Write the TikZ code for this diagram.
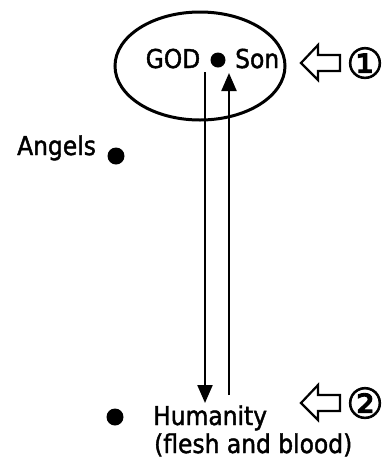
\documentclass[tikz,border=0pt]{standalone}
\usepackage{fontspec}
\setmainfont{DejaVu Sans Condensed}[FakeBold=1.6]
\newfontfamily\symfont{DejaVu Sans}[FakeBold=2]
\usetikzlibrary{arrows.meta,shapes.geometric}
\tikzset{
  hv dot/.style={circle,fill=black,inner sep=0pt,minimum size=17pt},
  hv text/.style={inner sep=0pt,font=\fontsize{26}{30}\selectfont},
  hv ring/.style={ellipse,draw=black,line width=3pt,minimum width=170pt,
    minimum height=108pt,inner sep=0pt},
  hv edge/.style={black,line width=2.2pt,-{Triangle[length=18pt,width=15pt]}},
  hv pointer/.style={draw=black,line width=2.2pt,line join=miter,fill=white}
}
\newcommand{\hvpointerat}[3]{%
  \begin{scope}[shift={(#1)}]
    \draw[hv pointer] (0,0)--(17,-18)--(17,-8)--(39,-8)--(39,8)--(17,8)
      --(17,17)--cycle;
    \node[inner sep=0pt,font=\symfont\fontsize{42}{42}\selectfont]
      (#3) at (64,0) {#2};
  \end{scope}%
}

\begin{document}
\begin{tikzpicture}[x=1pt,y=-1pt]
  \useasboundingbox (0,0) rectangle (387,459);
  \node[hv ring] (heaven) at (200,66) {};
  \node[hv dot,minimum size=15pt] (sondot) at (218,60) {};
  \node[hv text,anchor=base] (god) at (173,68) {GOD};
  \node[hv text,anchor=base west] (son) at (235,68) {Son};
  \node[hv text,anchor=base west] (angels) at (17,155) {Angels};
  \node[hv dot] (angeldot) at (116,156) {};
  \node[hv dot] (mandot) at (115,417) {};
  \node[hv text,anchor=base west] (humanity) at (153,425) {Humanity};
  \node[hv text,anchor=base west] (flesh) at (154,453) {(flesh and blood)};
  \hvpointerat{301,63}{①}{one}
  \hvpointerat{301,403}{②}{two}
  \coordinate (downtop) at (205,72);
  \coordinate (downtip) at (205,403);
  \coordinate (upfoot) at (229,395);
  \coordinate (uptip) at (229,73);
  \draw[hv edge] (downtop)--(downtip);
  \draw[hv edge] (upfoot)--(uptip);
\end{tikzpicture}
\end{document}
